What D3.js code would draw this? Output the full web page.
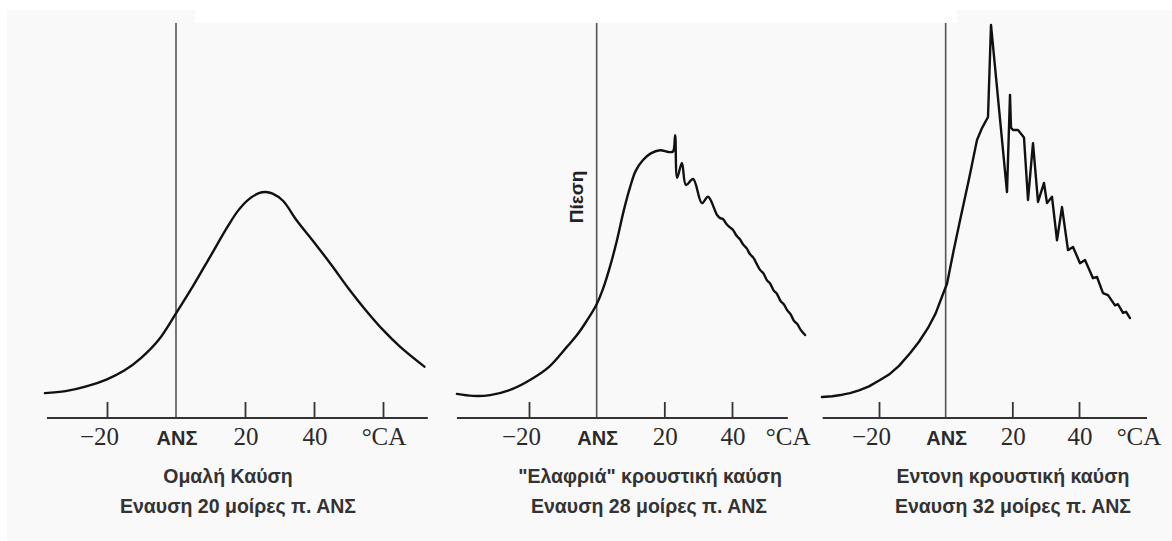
<!DOCTYPE html>
<html><head><meta charset="utf-8">
<script src="https://cdn.jsdelivr.net/npm/d3@7"></script>
<style>html,body{margin:0;padding:0;background:#fff;}svg{display:block;}</style>
</head><body>
<svg id="c" width="1172" height="541"></svg>
<script>
// ---- data ----
const tickValues = [-20, 0, 20, 40];
const tickLabels = ["−20", "ΑΝΣ", "20", "40"];
const unitLabel = "°CA";
const yLabel = "Πίεση";
const titles1 = ["Ομαλή Καύση", "\"Ελαφριά\" κρουστική καύση", "Εντονη κρουστική καύση"];
const titles2 = ["Εναυση 20 μοίρες π. ΑΝΣ", "Εναυση 28 μοίρες π. ΑΝΣ", "Εναυση 32 μοίρες π. ΑΝΣ"];

// pressure (arbitrary units) vs crank angle (deg)
const smoothSeries = [[-38,6.3],[-32,6.8],[-26,8.0],[-20,9.8],[-15,12.0],[-10,15.3],[-5,19.8],[0,26.5],[5,33.5],[10,41],[15,48.5],[18,52.5],[21,55.3],[24,56.9],[26,57.2],[28,56.8],[31,55],[35,50],[40,44.5],[45,38.8],[50,32.8],[55,27.3],[60,22.3],[65,18],[72,13]];
const lightSeries = [[-41.3,6.1],[-36.6,5.6],[-31.5,5.8],[-25,7.3],[-19.7,9.6],[-14,13],[-8.8,18],[-6,20.8],[-3,24.5],[0,28.8],[2,33],[4,38.5],[6,45],[8,52.5],[9.9,58.5],[11.5,62.5],[13.7,65.3],[16,67],[18.7,67.8],[21.7,67.3],[22.6,67.5],[23.2,71.6],[23.8,60.8],[25.2,64.6],[26.4,59],[28.5,60.5],[31.1,54.4],[32.9,56],[35.6,51.4],[36.5,50.6],[37.3,50.4],[38.3,49.2],[39.3,48.3],[40.3,47.6],[41.3,46.2],[42.3,45.3],[43.3,43.9],[44.3,43.0],[45.3,41.5],[46.3,40.6],[47.3,39.0],[48.3,37.5],[49.3,36.6],[50.3,34.9],[51.3,34.0],[52.3,32.3],[53.3,31.4],[54.3,29.7],[55.3,28.8],[56.3,27.3],[57.3,26.3],[58.3,24.6],[59.3,23.8],[60.3,22.3],[61.6,21.0]];
const heavySeries = [[-37.1,5.3],[-34,5.5],[-31,5.9],[-28.7,6.3],[-26,7],[-23,8],[-19.7,9.6],[-17,11],[-14,13.2],[-10.7,16.4],[-8,19.3],[-5.3,22.8],[-3,26.5],[-1.2,30.5],[0.4,34],[2.3,42],[4.3,50],[7,60.5],[9.4,70.4],[10.9,73.4],[12.7,76.2],[13.6,99.5],[18.4,57.2],[19.3,81.8],[19.6,73.5],[20.2,72.9],[21.7,72.9],[23.5,71],[24.7,55.2],[26.2,69.6],[27.7,54.7],[29.5,59.5],[30.4,54.4],[31.9,56],[33.4,45],[34.9,53.4],[36.7,42.5],[38.2,43.3],[40.3,39.2],[41.8,40],[44.2,35.4],[45.4,35.7],[47.2,31.6],[48.7,31.1],[50.8,28.5],[51.7,28.8],[53.2,26.6],[54.1,26.9],[55.3,25.3]];

// ---- layout (positions/styles) ----
const panels = [
  {series: smoothSeries, curve: d3.curveCatmullRom.alpha(0.5), px: [107, 314], axis: [-37.4, 73], ticks: [-20, 20, 40, 60], unitAt: 60, t1x: 228, t2x: 238},
  {series: lightSeries, curve: d3.curveCatmullRom.alpha(0.5), px: [529, 732], axis: [-41.3, 56.5], ticks: [-20, 20, 40], unitAt: 56.3, t1x: 650, t2x: 649},
  {series: heavySeries, curve: d3.curveLinear, px: [879, 1079], axis: [-36.9, 60.4], ticks: [-20, 20, 40], unitAt: 57.7, t1x: 1013, t2x: 1013}
];

const svg = d3.select("#c");
// background
svg.append("path")
  .attr("d", "M7,10 H195 V23 H957 V10 H1172 V541 H7 Z")
  .attr("fill", "#f9f9f9");

const y = d3.scaleLinear().domain([0, 100]).range([418, 23]);

panels.forEach((p, i) => {
  const x = d3.scaleLinear().domain([-20, 40]).range(p.px);
  const g = svg.append("g");
  const base = y(0);

  // ANS vertical line
  g.append("line")
    .attr("x1", x(0)).attr("x2", x(0))
    .attr("y1", y(100)).attr("y2", base)
    .attr("stroke", "#555").attr("stroke-width", 1.6);

  // axis baseline
  g.append("line")
    .attr("x1", x(p.axis[0])).attr("x2", x(p.axis[1]))
    .attr("y1", base).attr("y2", base)
    .attr("stroke", "#333").attr("stroke-width", 2.2);

  // ticks via d3 axis
  const ax = g.append("g").attr("transform", `translate(0,${base})`)
    .call(d3.axisBottom(x).tickValues(p.ticks).tickSizeInner(-16).tickSizeOuter(0).tickFormat(""));
  ax.select(".domain").remove();
  ax.selectAll(".tick line").attr("stroke", "#333").attr("stroke-width", 1.8);

  // tick labels
  tickValues.forEach((v, k) => {
    const lab = tickLabels[k];
    const t = g.append("text").attr("y", base + 27).attr("fill", "#2a2a2a").text(lab);
    if (v === 0) {
      t.attr("x", x(v) + 1).attr("text-anchor", "middle")
       .attr("font-family", "Liberation Sans, Arial, sans-serif").attr("font-weight", "bold").attr("font-size", 20);
    } else if (v < 0) {
      t.attr("x", x(v) + 12).attr("text-anchor", "end")
       .attr("font-family", "Liberation Serif, Times New Roman, serif").attr("font-size", 25);
    } else {
      t.attr("x", x(v) + 1).attr("text-anchor", "middle")
       .attr("font-family", "Liberation Serif, Times New Roman, serif").attr("font-size", 25);
    }
  });
  g.append("text").attr("x", x(p.unitAt) + 1).attr("y", base + 27).attr("text-anchor", "middle")
    .attr("font-family", "Liberation Serif, Times New Roman, serif").attr("font-size", 25)
    .attr("fill", "#2a2a2a").text(unitLabel);

  // curve
  const line = d3.line().x(d => x(d[0])).y(d => y(d[1])).curve(p.curve);
  g.append("path").datum(p.series).attr("d", line)
    .attr("fill", "none").attr("stroke", "#111").attr("stroke-width", 2.4)
    .attr("stroke-linejoin", "round").attr("stroke-linecap", "round");

  // titles
  g.append("text").attr("x", p.t1x).attr("y", 483).attr("text-anchor", "middle")
    .attr("font-family", "Liberation Sans, Arial, sans-serif").attr("font-weight", "bold")
    .attr("font-size", 19.5).attr("fill", "#333").text(titles1[i]);
  g.append("text").attr("x", p.t2x).attr("y", 513).attr("text-anchor", "middle")
    .attr("font-family", "Liberation Sans, Arial, sans-serif").attr("font-weight", "bold")
    .attr("font-size", 19.5).attr("fill", "#333").text(titles2[i]);
});

// pressure label
svg.append("text")
  .attr("transform", "translate(583,197) rotate(-90)")
  .attr("text-anchor", "middle")
  .attr("font-family", "Liberation Sans, Arial, sans-serif").attr("font-weight", "bold")
  .attr("font-size", 19).attr("fill", "#222").text(yLabel);
</script>
</body></html>
